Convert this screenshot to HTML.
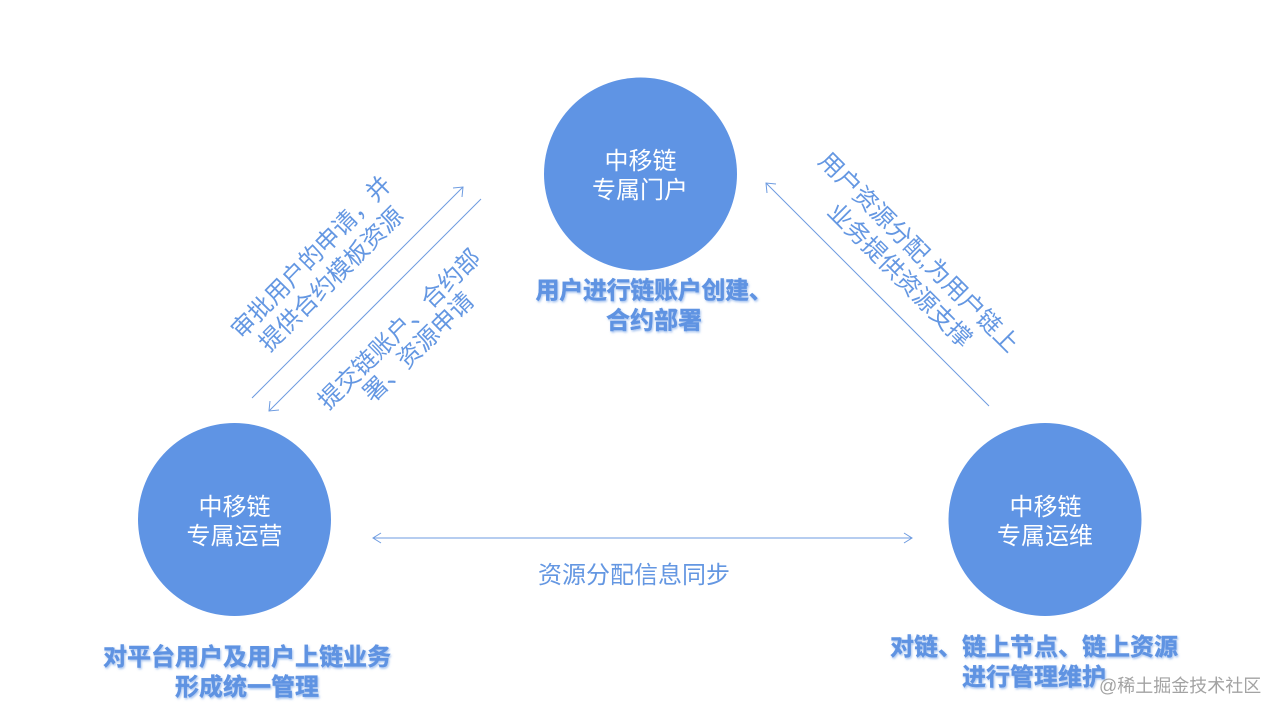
<!DOCTYPE html>
<html><head><meta charset="utf-8"><style>
html,body{margin:0;padding:0;background:#fff;width:1280px;height:716px;overflow:hidden}
svg{display:block}
text{font-family:"Liberation Sans","Noto Sans CJK SC",sans-serif;text-anchor:middle}
.w{fill:#fff;font-size:24px}
.b{fill:#6497e2;font-size:24px}
.h{fill:#5f93e2;stroke:#5f93e2;stroke-width:.4px;font-size:24px;font-weight:700;filter:url(#s)}
.wm{fill:#a3a3a3;font-size:18px;text-anchor:start}
line,polyline{stroke:#6d9be0;stroke-width:1;fill:none}
</style></head><body>
<svg width="1280" height="716" viewBox="0 0 1280 716" xmlns="http://www.w3.org/2000/svg">
<defs><filter id="s" x="-5%" y="-20%" width="110%" height="150%"><feDropShadow dx="1" dy="1.5" stdDeviation="1" flood-color="#5f93e2" flood-opacity=".55"/></filter></defs>
<circle cx="640.500" cy="174" r="96.5" fill="#5f94e4"/>
<circle cx="234.500" cy="519.500" r="96.5" fill="#5f94e4"/>
<circle cx="1045" cy="519.500" r="96.5" fill="#5f94e4"/>
<text class="w" x="640.500" y="169">中移链</text>
<text class="w" x="640" y="198">专属门户</text>
<text class="w" x="234.500" y="515">中移链</text>
<text class="w" x="234.500" y="544">专属运营</text>
<text class="w" x="1045.500" y="515">中移链</text>
<text class="w" x="1045" y="544">专属运维</text>
<text class="h" x="654" y="298.500" style="letter-spacing:-.3px">用户进行链账户创建、</text>
<text class="h" x="654" y="328.500">合约部署</text>
<text class="h" x="247" y="665">对平台用户及用户上链业务</text>
<text class="h" x="247" y="695">形成统一管理</text>
<text class="h" x="1034" y="655">对链、链上节点、链上资源</text>
<text class="h" x="1034" y="685">进行管理维护</text>
<text class="b" x="634" y="583">资源分配信息同步</text>
<text class="wm" x="1099" y="692">@稀土掘金技术社区</text>
<text class="b" transform="translate(317,263) rotate(-45.500)">审批用户的申请，并</text>
<text class="b" transform="translate(337,285) rotate(-45)">提供合约模板资源</text>
<text class="b" transform="translate(405,335) rotate(-44.500)">提交链账户、合约部</text>
<text class="b" transform="translate(424,353) rotate(-44.500)">署、资源申请</text>
<text class="b" transform="translate(913,258) rotate(45)">用户资源分配,为用户链上</text>
<text class="b" transform="translate(894,281) rotate(45)">业务提供资源支撑</text>
<line x1="252" y1="398" x2="463" y2="187"/>
<polyline points="453,188 463,187 462,197"/>
<line x1="481" y1="199" x2="269" y2="411"/>
<polyline points="270,401 269,411 279,410"/>
<line x1="989" y1="406" x2="766" y2="183"/>
<polyline points="776,184 766,183 767,193"/>
<line x1="373" y1="538" x2="912" y2="538"/>
<polyline points="381,533 373,538 381,543"/>
<polyline points="904,533 912,538 904,543"/>
</svg>
</body></html>
